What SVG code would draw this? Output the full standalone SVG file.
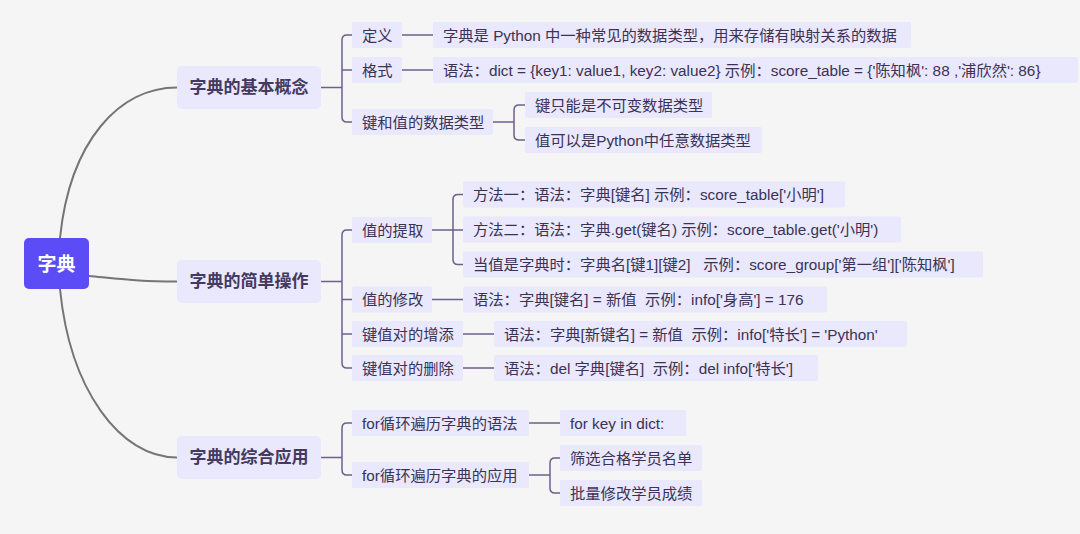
<svg xmlns="http://www.w3.org/2000/svg" width="1080" height="534" viewBox="0 0 1080 534">
<style>
text{font-family:"Liberation Sans","Noto Sans CJK SC",sans-serif;white-space:pre;dominant-baseline:central}
.box{fill:#e9e8fc}
.t{font-size:15.3px;fill:#3b3256}
.l1{font-size:17px;font-weight:bold;fill:#45395f;text-anchor:middle}
.root{font-size:19px;font-weight:bold;fill:#ffffff;text-anchor:middle}
.c0{fill:none;stroke:#757575;stroke-width:2}
.c1{fill:none;stroke:#6e5f8c;stroke-width:1.5}
</style>
<rect width="1080" height="534" fill="#f5f5f5"/>
<g id="connectors">
<path class="c0" d="M60,238 C70,140 120,87.5 177,87.5"/>
<path class="c0" d="M89,276 C130,280 140,281.5 177,281.5"/>
<path class="c0" d="M60,289 C70,390 120,457.5 177,457.5"/>
<path class="c1" d="M321,87.5 H342 M352,35 H347 Q342,35 342,40 V117 Q342,122 347,122 H352 M342,70 H352"/>
<path class="c1" d="M402,35 H433 M402,70 H433"/>
<path class="c1" d="M493,122 H514 M525,105 H519 Q514,105 514,110 V135 Q514,140 519,140 H525"/>
<path class="c1" d="M321,281.5 H342 M352,230 H347 Q342,230 342,235 V363 Q342,368 347,368 H352 M342,299.5 H352 M342,334 H352"/>
<path class="c1" d="M432,230 H463 M463,194.5 H458 Q453,194.5 453,199.5 V259.5 Q453,264.5 458,264.5 H463"/>
<path class="c1" d="M432,299.5 H463 M463,334 H494 M463,368 H494"/>
<path class="c1" d="M321,457.5 H342 M352,423 H347 Q342,423 342,428 V470 Q342,475 347,475 H352"/>
<path class="c1" d="M529,423 H560 M529,475 H550 M560,458 H555 Q550,458 550,463 V488 Q550,493 555,493 H560"/>
</g>
<g id="root"><rect x="24" y="238" width="65" height="51" rx="5" fill="#5b4cf5"/><text class="root" x="56.5" y="264">字典</text></g>
<g id="n1"><rect class="box" x="177" y="66" width="144" height="43" rx="5"/><text class="l1" x="249" y="87.5">字典的基本概念</text></g>
<g id="n2"><rect class="box" x="177" y="260" width="144" height="43" rx="5"/><text class="l1" x="249" y="281.5">字典的简单操作</text></g>
<g id="n3"><rect class="box" x="177" y="436" width="144" height="43" rx="5"/><text class="l1" x="249" y="457.5">字典的综合应用</text></g>
<g id="n1a"><rect class="box" x="352" y="22" width="50" height="26" rx="2"/><text class="t" x="362" y="35">定义</text></g>
<g id="n1b"><rect class="box" x="352" y="57" width="50" height="26" rx="2"/><text class="t" x="362" y="70">格式</text></g>
<g id="n1c"><rect class="box" x="352" y="109" width="141" height="26" rx="2"/><text class="t" x="362" y="122">键和值的数据类型</text></g>
<g id="n1a1"><rect class="box" x="433" y="22" width="478" height="26" rx="2"/><text class="t" x="443" y="35">字典是 Python 中一种常见的数据类型，用来存储有映射关系的数据</text></g>
<g id="n1b1"><rect class="box" x="433" y="57" width="645" height="26" rx="2"/><text class="t" x="443" y="70">语法：dict = {key1: value1, key2: value2} 示例：score_table = {'陈知枫': 88 ,'浦欣然': 86}</text></g>
<g id="n1c1"><rect class="box" x="525" y="92" width="187" height="26" rx="2"/><text class="t" x="535" y="105">键只能是不可变数据类型</text></g>
<g id="n1c2"><rect class="box" x="525" y="127" width="237" height="26" rx="2"/><text class="t" x="535" y="140">值可以是Python中任意数据类型</text></g>
<g id="n2a"><rect class="box" x="352" y="217" width="80" height="26" rx="2"/><text class="t" x="362" y="230">值的提取</text></g>
<g id="n2b"><rect class="box" x="352" y="286.5" width="80" height="26" rx="2"/><text class="t" x="362" y="299.5">值的修改</text></g>
<g id="n2c"><rect class="box" x="352" y="321" width="111" height="26" rx="2"/><text class="t" x="362" y="334">键值对的增添</text></g>
<g id="n2d"><rect class="box" x="352" y="355" width="111" height="26" rx="2"/><text class="t" x="362" y="368">键值对的删除</text></g>
<g id="n2a1"><rect class="box" x="463" y="181.5" width="382" height="26" rx="2"/><text class="t" x="473" y="194.5">方法一：语法：字典[键名] 示例：score_table['小明']</text></g>
<g id="n2a2"><rect class="box" x="463" y="216.5" width="438" height="26" rx="2"/><text class="t" x="473" y="229.5">方法二：语法：字典.get(键名) 示例：score_table.get('小明')</text></g>
<g id="n2a3"><rect class="box" x="463" y="251.5" width="520" height="26" rx="2"/><text class="t" x="473" y="264.5">当值是字典时：字典名[键1][键2]   示例：score_group['第一组']['陈知枫']</text></g>
<g id="n2b1"><rect class="box" x="463" y="286.5" width="364" height="26" rx="2"/><text class="t" x="473" y="299.5">语法：字典[键名] = 新值  示例：info['身高'] = 176</text></g>
<g id="n2c1"><rect class="box" x="494" y="321" width="413" height="26" rx="2"/><text class="t" x="504" y="334">语法：字典[新键名] = 新值  示例：info['特长'] = 'Python'</text></g>
<g id="n2d1"><rect class="box" x="494" y="355" width="324" height="26" rx="2"/><text class="t" x="504" y="368">语法：del 字典[键名]  示例：del info['特长']</text></g>
<g id="n3a"><rect class="box" x="352" y="410" width="177" height="26" rx="2"/><text class="t" x="362" y="423">for循环遍历字典的语法</text></g>
<g id="n3b"><rect class="box" x="352" y="462" width="177" height="26" rx="2"/><text class="t" x="362" y="475">for循环遍历字典的应用</text></g>
<g id="n3a1"><rect class="box" x="560" y="410" width="126" height="26" rx="2"/><text class="t" x="570" y="423">for key in dict:</text></g>
<g id="n3b1"><rect class="box" x="560" y="445" width="142" height="26" rx="2"/><text class="t" x="570" y="458">筛选合格学员名单</text></g>
<g id="n3b2"><rect class="box" x="560" y="480" width="142" height="26" rx="2"/><text class="t" x="570" y="493">批量修改学员成绩</text></g>
</svg>
